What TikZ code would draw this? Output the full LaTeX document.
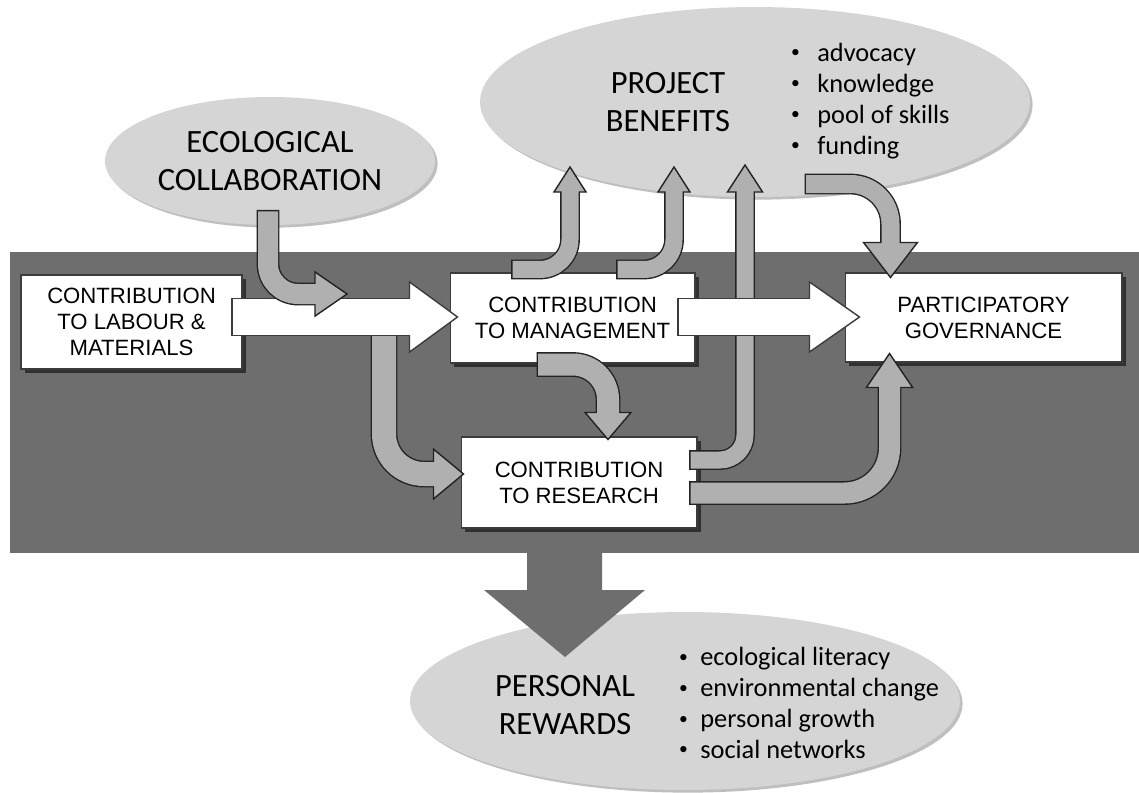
\documentclass[tikz,border=0pt]{standalone}
\usepackage{fontspec}
\setmainfont{Carlito}
\newfontfamily\arialf{Liberation Sans}
\usetikzlibrary{calc,shapes.geometric,shadows}
\definecolor{bandgray}{RGB}{110,110,110}
\definecolor{ellgray}{RGB}{213,213,213}
\definecolor{arrgray}{RGB}{176,176,176}
\definecolor{edgegray}{RGB}{35,35,35}
\definecolor{boxedge}{RGB}{60,60,60}
% #1 fill, #2 outline, #3 shaft width (px), #4 corner radius (px), #5 path, #6 head base, #7 tip, #8 head half-width / head length
\newcommand\barrow[8]{%
  \draw[draw=#2, line width={#3*0.02cm+1.6pt}, rounded corners={#4*0.02cm+0.01pt}, shorten <=-0.8pt] #5;
  \filldraw[fill=#1, draw=#2, line width=0.8pt, line join=miter] ($(#6)!#8!90:(#7)$) -- (#7) -- ($(#6)!#8!-90:(#7)$) -- cycle;
  \draw[draw=#1, line width={#3*0.02cm}, rounded corners={#4*0.02cm+0.01pt}, shorten >=-1.2pt] #5;
}
\newcommand\bl[1]{\makebox[#1][l]{\hspace{0.4pt}\raisebox{0.28ex}{\fontsize{10}{10}\selectfont•}}}
\tikzset{
  box/.style={draw=boxedge, fill=white, line width=0.6pt, inner sep=0pt, align=center,
    font=\arialf\fontsize{12.6}{14.8}\selectfont,
    drop shadow={shadow xshift=2.5pt, shadow yshift=-2.5pt, opacity=0.55, fill=black}},
  ell/.style={ellipse, fill=ellgray, inner sep=0pt, align=center,
    font=\fontsize{18.5}{22}\selectfont,
    drop shadow={shadow xshift=1.5pt, shadow yshift=-1.5pt, opacity=0.25, fill=black}},
  title/.style={inner sep=0pt, align=center, font=\fontsize{18.5}{22}\selectfont},
  bullets/.style={inner sep=0pt, align=left, anchor=west, font=\fontsize{15}{17.6}\selectfont}
}
\begin{document}
\begin{tikzpicture}[x=0.02cm, y=-0.02cm]
\useasboundingbox[fill=white] (0,0) rectangle (1139,792);

% ellipses
\node[ell, minimum width=6.6cm, minimum height=2.56cm] (eco) at (270,161) {ECOLOGICAL\\COLLABORATION};
\node[ell, minimum width=11cm, minimum height=3.8cm] (pb) at (755,102) {};
\node[title] (pbt) at (668,102) {PROJECT\\BENEFITS};
\node[bullets] (pbl) at (790,101) {\bl{0.54cm}advocacy\\\bl{0.54cm}knowledge\\\bl{0.54cm}pool of skills\\\bl{0.54cm}funding};
\node[ell, minimum width=11cm, minimum height=3.56cm] (pr) at (685,701) {};
\node[title] (prt) at (565,705) {PERSONAL\\REWARDS};
\node[bullets] (prl) at (678,703) {\bl{0.44cm}ecological literacy\\\bl{0.44cm}environmental change\\\bl{0.44cm}personal growth\\\bl{0.44cm}social networks};

% band and down arrow
\fill[bandgray] (10,252) rectangle (1139,553);
\fill[bandgray] (527,552) -- (602,552) -- (602,590) -- (645,590) -- (565,657) -- (484,590) -- (527,590) -- cycle;

% boxes
\node[box, minimum width=4.42cm, minimum height=1.88cm] (cl) at (131.5,322) {CONTRIBUTION\\TO LABOUR \&\\MATERIALS};
\node[box, minimum width=4.9cm, minimum height=1.8cm] (cm) at (572.5,318) {CONTRIBUTION\\TO MANAGEMENT};
\node[box, minimum width=4.72cm, minimum height=1.82cm] (cr) at (579,482.5) {CONTRIBUTION\\TO RESEARCH};
\node[box, minimum width=5.54cm, minimum height=1.78cm] (pg) at (983.5,317.5) {PARTICIPATORY\\GOVERNANCE};

% coordinates
\coordinate (w1t) at ($(cl.east)+(-10,-5)$);
\coordinate (w1tip) at ($(cm.west)+(8,-1)$);
\coordinate (w1b) at ($(w1tip)+(-48,0)$);
\coordinate (w2t) at ($(cm.east)+(-17,-1)$);
\coordinate (w2tip) at ($(pg.west)+(15,-0.5)$);
\coordinate (w2b) at ($(w2tip)+(-50,0)$);

\coordinate (g1t) at ($(eco.south)+(-2,-14)$);
\coordinate (g1tip) at (347,294);
\coordinate (g1b) at ($(g1tip)+(-32,0)$);

\coordinate (g2t) at (384,328);
\coordinate (g2tip) at ($(cr.west)+(3,-8.5)$);
\coordinate (g2b) at ($(g2tip)+(-30,0)$);

\coordinate (g3t) at ($(cm.north west)+(63,-3)$);
\coordinate (g3tip) at (570,167);
\coordinate (g3b) at ($(g3tip)+(0,25)$);

\coordinate (g4t) at ($(cm.north west)+(168,-3)$);
\coordinate (g4tip) at (674,167);
\coordinate (g4b) at ($(g4tip)+(0,25)$);

\coordinate (g5t) at ($(cr.east)+(-7,-22.5)$);
\coordinate (g5tip) at (745,165);
\coordinate (g5b) at ($(g5tip)+(0,27)$);

\coordinate (g6t) at ($(cm.south)+(-34.5,1)$);
\coordinate (g6tip) at ($(cr.north)+(29,3)$);
\coordinate (g6b) at ($(g6tip)+(0,-27)$);

\coordinate (g7t) at ($(cr.east)+(-7,10.5)$);
\coordinate (g7tip) at ($(pg.south west)+(45,-9)$);
\coordinate (g7b) at ($(g7tip)+(0,34)$);

\coordinate (g8t) at ($(pb.center)+(51,82)$);
\coordinate (g8tip) at ($(pg.north west)+(46,5)$);
\coordinate (g8b) at ($(g8tip)+(0,-35)$);

% arrows beneath the white arrows
\barrow{arrgray}{edgegray}{24}{40}{(g2t) |- (g2b)}{g2b}{g2tip}{0.83}
\barrow{arrgray}{edgegray}{17}{25}{(g5t) -| (g5b)}{g5b}{g5tip}{0.65}

% white arrows
\barrow{white}{boxedge}{36}{0}{(w1t) -- (w1b)}{w1b}{w1tip}{0.73}
\barrow{white}{boxedge}{36}{0}{(w2t) -- (w2b)}{w2b}{w2tip}{0.70}

% other grey arrows
\barrow{arrgray}{edgegray}{20}{30}{(g1t) |- (g1b)}{g1b}{g1tip}{0.69}
\barrow{arrgray}{edgegray}{17}{30}{(g3t) -| (g3b)}{g3b}{g3tip}{0.64}
\barrow{arrgray}{edgegray}{17}{30}{(g4t) -| (g4b)}{g4b}{g4tip}{0.64}
\barrow{arrgray}{edgegray}{22}{35}{(g6t) -| (g6b)}{g6b}{g6tip}{0.85}
\barrow{arrgray}{edgegray}{21}{45}{(g7t) -| (g7b)}{g7b}{g7tip}{0.68}
\barrow{arrgray}{edgegray}{18}{40}{(g8t) -| (g8b)}{g8b}{g8tip}{0.77}
\end{tikzpicture}
\end{document}
